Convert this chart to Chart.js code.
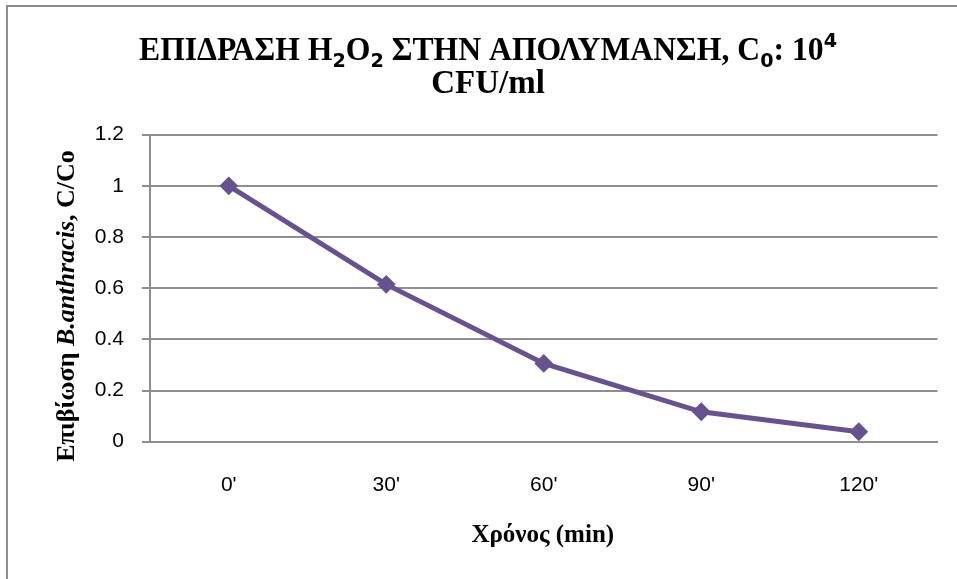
<!DOCTYPE html>
<html>

<head>
  <title>Επίδραση H2O2 στην απολύμανση</title>
  <script src="https://cdn.jsdelivr.net/npm/chart.js"></script>
  <style>
    body { margin: 0; background: #fff; }
  </style>
</head>

<body>
  <canvas id="chart" width="957" height="579" style="position:absolute;left:0;top:0;width:957px;height:579px;"></canvas>
  <script>
    // δεδομένα
    var timeLabels = ["0'", "30'", "60'", "90'", "120'"];
    var survival = [1, 0.615, 0.306, 0.117, 0.039];
    var yTicks = [0, 0.2, 0.4, 0.6, 0.8, 1, 1.2];

    var titleLine1 = [
      ['ΕΠΙΔΡΑΣΗ H', 'n'], ['2', 'sub'], ['O', 'n'], ['2', 'sub'],
      [' ΣΤΗΝ ΑΠΟΛΥΜΑΝΣΗ, C', 'n'], ['0', 'sub'], [': 10', 'n'], ['4', 'sup']
    ];
    var titleLine2 = [['CFU/ml', 'n']];
    var yTitle = [['Επιβίωση ', 'n'], ['B.anthracis', 'i'], [', C/Co', 'n']];
    var xTitle = [['Χρόνος (min)', 'n']];

    var serif = "'Liberation Serif', 'Times New Roman', serif";
    var sans = "'Liberation Sans', 'Open Sans', sans-serif";
    var gridColor = '#8e8e8e';
    var lineColor = '#67528f';

    function segFont(kind, size) {
      if (kind === 'sub' || kind === 'sup') return 'bold ' + Math.round(size * 0.62) + "px 'DejaVu Sans', sans-serif";
      if (kind === 'i') return 'bold italic ' + size + 'px ' + serif;
      return 'bold ' + size + 'px ' + serif;
    }

    // γράφει κείμενο με δείκτες, κεντραρισμένο, με συμπίεση αν χρειάζεται
    function drawRich(ctx, segs, cx, cy, size, maxW, rot) {
      var total = 0;
      segs.forEach(function (s) { ctx.font = segFont(s[1], size); total += ctx.measureText(s[0]).width; });
      var sx = maxW && total > maxW ? maxW / total : 1;
      ctx.save();
      ctx.translate(cx, cy);
      if (rot) ctx.rotate(rot);
      ctx.scale(sx, 1);
      ctx.fillStyle = '#000';
      ctx.textBaseline = 'alphabetic';
      ctx.textAlign = 'left';
      var x = -total / 2;
      segs.forEach(function (s) {
        ctx.font = segFont(s[1], size);
        var dy = s[1] === 'sub' ? size * 0.2 : (s[1] === 'sup' ? -size * 0.38 : 0);
        ctx.fillText(s[0], x, dy);
        x += ctx.measureText(s[0]).width;
      });
      ctx.restore();
    }

    var decor = {
      id: 'decor',
      beforeDraw: function (chart) {
        var ctx = chart.ctx;
        ctx.save();
        ctx.strokeStyle = '#8c8c8c';
        ctx.lineWidth = 2;
        ctx.beginPath();
        ctx.moveTo(7, chart.height);
        ctx.lineTo(7, 6);
        ctx.lineTo(chart.width, 6);
        ctx.stroke();
        ctx.restore();
      },
      afterDraw: function (chart) {
        var ctx = chart.ctx;
        var a = chart.chartArea;
        drawRich(ctx, titleLine1, 488, 60, 33, 698);
        drawRich(ctx, titleLine2, 488, 93, 33, 0);
        drawRich(ctx, yTitle, 74, 306, 26, 312, -Math.PI / 2);
        drawRich(ctx, xTitle, (a.left + a.right) / 2 - 1, 542, 25, 148);
      }
    };

    var ctx = document.getElementById('chart').getContext('2d');
    var chart = new Chart(ctx, {
      type: 'line',
      data: {
        labels: timeLabels,
        datasets: [{
          data: survival,
          borderColor: lineColor,
          backgroundColor: lineColor,
          borderWidth: 5,
          pointStyle: 'rectRot',
          pointRadius: 8,
          pointBorderWidth: 2,
          pointBackgroundColor: lineColor,
          pointBorderColor: lineColor,
          tension: 0
        }]
      },
      options: {
        responsive: false,
        animation: false,
        layout: { padding: { left: 0, right: 19.5, top: 134.7, bottom: 0 } },
        plugins: {
          legend: { display: false },
          title: { display: false },
          tooltip: { enabled: false }
        },
        scales: {
          x: {
            offset: true,
            grid: { display: false, drawTicks: false },
            border: { display: true, color: gridColor, width: 2 },
            ticks: {
              padding: 31,
              color: '#000',
              font: { family: sans, size: 21 }
            },
            afterFit: function (s) { s.height = 579 - 441.7; }
          },
          y: {
            min: 0,
            max: 1.2,
            afterBuildTicks: function (s) { s.ticks = yTicks.map(function (v) { return { value: v }; }); },
            grid: { color: gridColor, lineWidth: 2, tickLength: 8, tickColor: gridColor },
            border: { display: true, color: gridColor, width: 2 },
            ticks: {
              padding: 18,
              color: '#000',
              font: { family: sans, size: 21 },
              callback: function (v) { return String(Math.round(v * 10) / 10); }
            },
            afterFit: function (s) { s.width = 150; }
          }
        }
      },
      plugins: [decor]
    });
  </script>
</body>

</html>
